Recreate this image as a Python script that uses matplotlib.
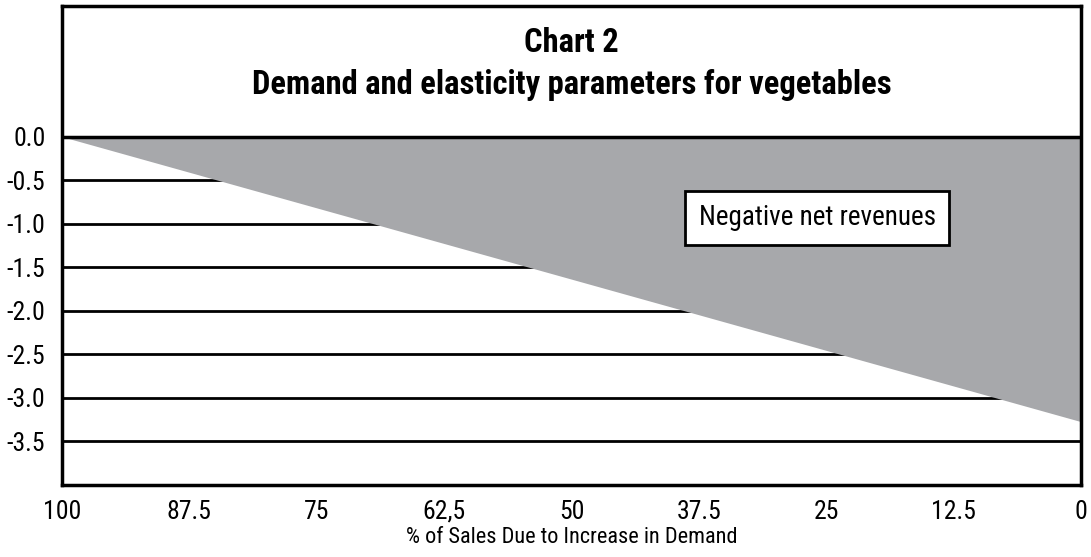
import matplotlib.pyplot as plt
from matplotlib import font_manager

names = {f.name for f in font_manager.fontManager.ttflist}
family = 'DejaVu Sans'
for cand in ['Roboto Condensed', 'Liberation Sans Narrow', 'Open Sans Condensed', 'Roboto']:
    if cand in names:
        family = cand
        break
plt.rcParams['font.family'] = [family, 'DejaVu Sans']

# data
x_ticks = [100, 87.5, 75, 62.5, 50, 37.5, 25, 12.5, 0]
x_labels = ['100', '87.5', '75', '62,5', '50', '37.5', '25', '12.5', '0']
y_ticks = [0.0, -0.5, -1.0, -1.5, -2.0, -2.5, -3.0, -3.5]
region_x = [100, 0, 0]
region_y = [0.0, 0.0, -3.28]

fig = plt.figure(figsize=(10.91, 5.57), dpi=100)
ax = fig.add_axes([62 / 1091, 72 / 557, 1019 / 1091, 479 / 557])

# gridlines
for yv in y_ticks[1:]:
    ax.axhline(yv, color='black', lw=2, zorder=1)

ax.fill(region_x, region_y, color='#a7a8ab', lw=0, zorder=2)
ax.axhline(0.0, color='black', lw=2.5, zorder=3)

ax.set_xlim(100, 0)
ax.set_ylim(-4.0, 1.5)
ax.set_xticks(x_ticks)
ax.set_xticklabels(x_labels)
ax.set_yticks(y_ticks)
ax.set_yticklabels(['%.1f' % v for v in y_ticks])
ax.tick_params(length=0, labelsize=18.5, pad=10.5)
ax.tick_params(axis='y', pad=12)
for s in ax.spines.values():
    s.set_linewidth(2.5)

ax.set_xlabel('% of Sales Due to Increase in Demand', fontsize=16, labelpad=2.5)

ax.text(50, 1.07, 'Chart 2', ha='center', va='center', fontsize=23.5, fontweight='bold')
ax.text(50, 0.59, 'Demand and elasticity parameters for vegetables',
        ha='center', va='center', fontsize=23.5, fontweight='bold')

ax.text(25.9, -0.93, 'Negative net revenues', ha='center', va='center', fontsize=19.5,
        bbox=dict(boxstyle='square,pad=0.5', fc='white', ec='black', lw=2), zorder=4)

fig.savefig('out.png', dpi=100)
